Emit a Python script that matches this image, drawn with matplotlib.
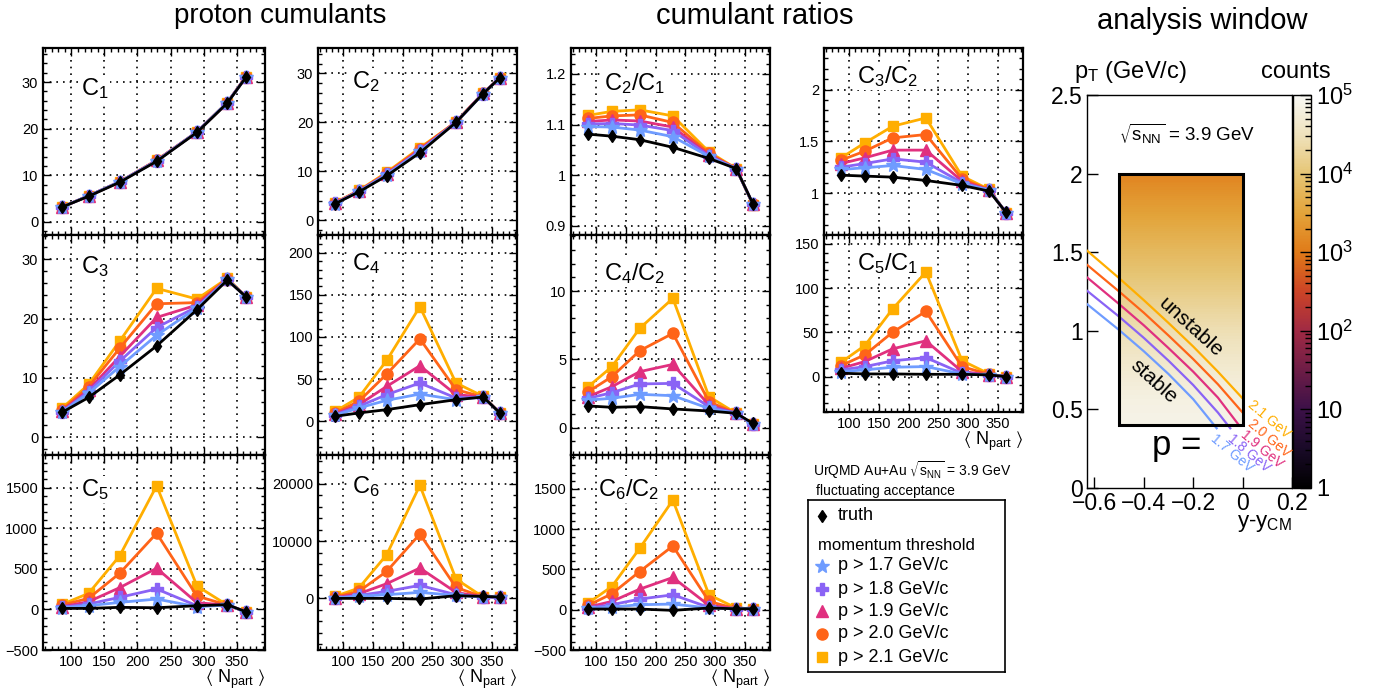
import matplotlib
matplotlib.use('Agg')
import numpy as np
import matplotlib.pyplot as plt
from matplotlib.colors import LinearSegmentedColormap, LogNorm
from matplotlib.patches import Rectangle
from matplotlib.ticker import MultipleLocator, AutoMinorLocator, FuncFormatter

plt.rcParams['font.family'] = ['Liberation Sans', 'DejaVu Sans']
plt.rcParams['mathtext.default'] = 'regular'

# ---- data ----
npart = [86, 126, 173, 229, 290, 336, 364]
series_names = ['truth', 'p > 1.7 GeV/c', 'p > 1.8 GeV/c', 'p > 1.9 GeV/c',
                'p > 2.0 GeV/c', 'p > 2.1 GeV/c']

# each panel: truth, >1.7, >1.8, >1.9, >2.0, >2.1
c1 = [[3.2, 5.5, 8.5, 13.0, 19.2, 25.5, 31.0],
      [3.2, 5.6, 8.6, 13.1, 19.3, 25.6, 31.0],
      [3.2, 5.6, 8.6, 13.1, 19.3, 25.6, 31.0],
      [3.2, 5.6, 8.6, 13.2, 19.3, 25.6, 31.1],
      [3.2, 5.6, 8.6, 13.2, 19.3, 25.6, 31.1],
      [3.2, 5.6, 8.6, 13.2, 19.3, 25.6, 31.1]]
c2 = [[3.4, 5.8, 9.1, 13.8, 20.0, 25.9, 29.1],
      [3.4, 5.9, 9.3, 14.1, 20.0, 25.9, 29.1],
      [3.5, 5.9, 9.4, 14.2, 20.0, 25.9, 29.1],
      [3.5, 6.0, 9.5, 14.4, 20.1, 26.0, 29.1],
      [3.6, 6.0, 9.6, 14.6, 20.1, 26.0, 29.1],
      [3.6, 6.1, 9.8, 14.8, 20.1, 26.0, 29.1]]
c3 = [[4.2, 6.7, 10.5, 15.4, 21.5, 26.5, 23.7],
      [4.3, 7.4, 11.9, 17.2, 21.8, 26.6, 23.7],
      [4.3, 7.7, 12.8, 18.5, 22.0, 26.6, 23.7],
      [4.4, 8.0, 13.6, 20.2, 22.3, 26.6, 23.7],
      [4.6, 8.5, 15.0, 22.5, 22.7, 26.7, 23.7],
      [4.9, 8.9, 16.2, 25.1, 23.3, 26.8, 23.7]]
c4 = [[5.9, 9.9, 13.8, 19.7, 25.6, 28.8, 9.9],
      [7.1, 15.8, 24.9, 32.3, 25.6, 28.8, 9.9],
      [7.9, 17.8, 31.6, 45.4, 27.6, 28.8, 9.9],
      [8.7, 19.7, 41.4, 65.9, 31.6, 28.8, 9.9],
      [9.9, 23.7, 56.0, 97.8, 37.5, 28.8, 9.9],
      [11.8, 28.4, 72.2, 136.0, 45.4, 29.6, 9.9]]
c5 = [[12, 12, 25, 20, 45, 58, -29],
      [20, 45, 86, 127, 33, 53, -29],
      [25, 66, 148, 251, 45, 53, -29],
      [33, 95, 267, 506, 82, 53, -29],
      [53, 136, 444, 937, 164, 53, -29],
      [62, 197, 658, 1521, 288, 53, -29]]
c6 = [[0, 0, 0, -116, 465, 349, 233],
      [58, 349, 640, 1047, 523, 233, 233],
      [58, 523, 1221, 2267, 640, 233, 233],
      [116, 814, 2558, 5291, 1047, 233, 233],
      [233, 1220, 4709, 11220, 1919, 233, 233],
      [349, 1802, 7616, 19709, 3372, 233, 233]]
r21 = [[1.081, 1.077, 1.070, 1.055, 1.033, 1.013, 0.944],
       [1.096, 1.095, 1.089, 1.076, 1.037, 1.013, 0.943],
       [1.101, 1.102, 1.099, 1.088, 1.038, 1.013, 0.943],
       [1.106, 1.109, 1.107, 1.095, 1.040, 1.013, 0.943],
       [1.112, 1.117, 1.119, 1.104, 1.043, 1.013, 0.943],
       [1.118, 1.126, 1.129, 1.117, 1.046, 1.013, 0.942]]
r32 = [[1.176, 1.167, 1.157, 1.125, 1.077, 1.022, 0.820],
       [1.231, 1.247, 1.269, 1.231, 1.093, 1.032, 0.815],
       [1.253, 1.288, 1.333, 1.301, 1.103, 1.032, 0.815],
       [1.288, 1.343, 1.417, 1.417, 1.119, 1.032, 0.815],
       [1.321, 1.407, 1.535, 1.567, 1.141, 1.035, 0.815],
       [1.343, 1.487, 1.647, 1.727, 1.167, 1.038, 0.814]]
r42 = [[1.59, 1.49, 1.54, 1.37, 1.22, 1.05, 0.32],
       [2.02, 2.15, 2.44, 2.34, 1.41, 1.05, 0.24],
       [2.15, 2.56, 3.20, 3.24, 1.54, 1.05, 0.24],
       [2.27, 3.00, 4.10, 4.63, 1.66, 1.05, 0.24],
       [2.63, 3.73, 5.63, 6.90, 1.90, 1.05, 0.24],
       [3.00, 4.46, 7.27, 9.46, 2.27, 1.05, 0.24]]
r51 = [[3.8, 3.0, 3.0, 2.6, 2.6, 1.9, 0],
       [5.7, 7.6, 10.6, 11.3, 3.0, 1.9, 0],
       [7.6, 11.3, 17.8, 21.5, 3.8, 1.9, 0],
       [9.4, 17.0, 31.4, 40.4, 5.7, 1.9, 0],
       [12.5, 24.6, 50.2, 73.7, 11.3, 2.5, 0],
       [16.2, 35.1, 76.6, 118.2, 18.1, 3.0, 0]]
r62 = [[8, 8, 8, -8, 21, 12, 12],
       [16, 33, 62, 70, 21, 12, 12],
       [21, 62, 132, 185, 29, 12, 12],
       [33, 103, 255, 400, 54, 12, 12],
       [54, 198, 474, 791, 103, 12, 12],
       [82, 288, 762, 1360, 185, 21, 12]]

# analysis window: counts per pT row (log colour scale)
window_y = [-0.5, 0.0]
window_pt = [0.4, 2.0]
window_counts = [7.5e4, 6.8e4, 5.8e4, 4.8e4, 3.9e4, 3.1e4, 2.4e4, 1.8e4,
                 1.35e4, 1.0e4, 7.5e3, 5.5e3, 4.0e3, 2.9e3, 2.1e3, 1.5e3]

# momentum threshold curves in (y-y_CM, pT)
thr_labels = ['1.7 GeV', '1.8 GeV', '1.9 GeV', '2.0 GeV', '2.1 GeV']
thr_y = [[-0.63, -0.5, -0.4, -0.3, -0.2, -0.105],
         [-0.63, -0.5, -0.4, -0.3, -0.2, -0.1, -0.05],
         [-0.63, -0.5, -0.4, -0.3, -0.2, -0.1, -0.015],
         [-0.63, -0.5, -0.4, -0.3, -0.2, -0.1, 0.0],
         [-0.63, -0.5, -0.4, -0.3, -0.2, -0.1, 0.0]]
thr_pt = [[1.17, 1.005, 0.87, 0.725, 0.565, 0.38],
          [1.255, 1.09, 0.955, 0.81, 0.655, 0.48, 0.38],
          [1.34, 1.17, 1.035, 0.89, 0.74, 0.575, 0.40],
          [1.42, 1.25, 1.115, 0.97, 0.82, 0.66, 0.48],
          [1.51, 1.335, 1.195, 1.05, 0.90, 0.74, 0.57]]

colors = ['black', '#6f9cff', '#8a63f5', '#e0307f', '#ff6418', '#ffae00']
markers = ['d', '*', 'P', '^', 'o', 's']
msizes = [6.5, 10, 8.5, 8, 8, 7.5]

W, H = 1382, 696
fig = plt.figure(figsize=(W / 100, H / 100), dpi=100)


def box(l, r, t, b):
    return [l / W, 1 - b / H, (r - l) / W, (b - t) / H]


def fmt(v, pos):
    return f'{v:g}'.replace('-', '\u2212')


cols = [(43, 265), (318, 517), (571, 770), (824, 1023)]
rows = [(48, 235), (235, 455), (455, 650)]
rows4 = [(48, 235), (235, 412)]

# label, data, ylim, yticks, column, rows, bottom row?, label offset (px)
panels = [
    ('C$_1$', c1, (-2.8, 37.3), [0, 10, 20, 30], 0, rows[0], False, (38, 39)),
    ('C$_3$', c3, (-3.0, 34.1), [0, 10, 20, 30], 0, rows[1], False, (38, 30)),
    ('C$_5$', c5, (-500, 1900), [-500, 0, 500, 1000, 1500], 0, rows[2], True, (38, 33)),
    ('C$_2$', c2, (-3.0, 35.2), [0, 10, 20, 30], 1, rows[0], False, (34, 32)),
    ('C$_4$', c4, (-40, 221), [0, 50, 100, 150, 200], 1, rows[1], False, (34, 27)),
    ('C$_6$', c6, (-9000, 25000), [0, 10000, 20000], 1, rows[2], True, (34, 30)),
    ('C$_2$/C$_1$', r21, (0.882, 1.251), [0.9, 1.0, 1.1, 1.2], 2, rows[0], False, (33, 34)),
    ('C$_4$/C$_2$', r42, (-2.0, 14.1), [0, 5, 10], 2, rows[1], False, (33, 37)),
    ('C$_6$/C$_2$', r62, (-500, 1920), [-500, 0, 500, 1000, 1500], 2, rows[2], True, (27, 33)),
    ('C$_3$/C$_2$', r32, (0.6, 2.4), [1.0, 1.5, 2.0], 3, rows4[0], False, (33, 27)),
    ('C$_5$/C$_1$', r51, (-40, 160), [0, 50, 100, 150], 3, rows4[1], True, (33, 27)),
]

for label, data, ylim, yticks, ci, (top, bot), bottom, (dx, dy) in panels:
    l, r = cols[ci]
    ax = fig.add_axes(box(l, r, top, bot))
    for i in [5, 4, 3, 2, 1, 0]:
        ax.plot(npart, data[i], color=colors[i], marker=markers[i], ms=msizes[i],
                mec=colors[i], lw=2, zorder=3 + (6 - i) if i else 10)
    ax.set_xlim(57, 393)
    ax.set_ylim(*ylim)
    ax.set_xticks([100, 150, 200, 250, 300, 350])
    ax.xaxis.set_minor_locator(MultipleLocator(10))
    ax.set_yticks(yticks)
    ax.yaxis.set_minor_locator(AutoMinorLocator(5))
    ax.yaxis.set_major_formatter(FuncFormatter(fmt))
    ax.grid(True, which='major', color='black', ls=(0, (1, 3)), lw=1.2)
    ax.tick_params(which='both', direction='in', top=True, right=True,
                   labelsize=10.5, width=1)
    ax.tick_params(which='major', length=6)
    ax.tick_params(which='minor', length=3)
    for s in ax.spines.values():
        s.set_linewidth(1.6)
    if not bottom:
        ax.tick_params(labelbottom=False)
    else:
        ax.text(1.0, -29 / (bot - top), r'$\langle$ N$_{part}$ $\rangle$',
                transform=ax.transAxes, ha='right', va='center', fontsize=13)
    ax.annotate(label, xy=(0, 1), xycoords='axes fraction', xytext=(dx, -dy - 8),
                textcoords='offset pixels', ha='left', va='baseline', fontsize=17,
                zorder=20, bbox=dict(fc='white', ec='none', pad=1))

fig.text(280 / W, 1 - 16 / H, 'proton cumulants', ha='center', va='center', fontsize=20)
fig.text(755 / W, 1 - 16 / H, 'cumulant ratios', ha='center', va='center', fontsize=21)
fig.text(1202 / W, 1 - 21 / H, 'analysis window', ha='center', va='center', fontsize=21)

# legend block
fig.text(912 / W, 1 - 470 / H, r'UrQMD Au+Au $\sqrt{s_{NN}}$ = 3.9 GeV',
         ha='center', va='center', fontsize=10)
fig.text(885 / W, 1 - 491 / H, 'fluctuating acceptance', ha='center', va='center', fontsize=10)
lax = fig.add_axes(box(808, 1005, 500, 672))
lax.set_xlim(0, 197)
lax.set_ylim(172, 0)
lax.set_xticks([])
lax.set_yticks([])
for s in lax.spines.values():
    s.set_linewidth(1.2)
leg_rows = [16, 66, 89, 111, 134, 157]
for i, yy in enumerate(leg_rows):
    lax.plot([14], [yy], color=colors[i], marker=markers[i], ms=msizes[i], mec=colors[i])
    lax.text(30, yy, series_names[i], ha='left', va='center', fontsize=13)
lax.text(10, 45, 'momentum threshold', ha='left', va='center', fontsize=12)

# analysis window panel
cmap = LinearSegmentedColormap.from_list('dbr', [
    (0.0, '#000000'), (0.1, '#1a0a28'), (0.2, '#3c1048'), (0.4, '#a02a44'),
    (0.5, '#cc4426'), (0.6, '#e07a18'), (0.7, '#e3a43a'), (0.8, '#e6c574'),
    (0.9, '#efe2bc'), (1.0, '#f8f8f4')])
norm = LogNorm(1, 1e5)
wax = fig.add_axes(box(1087, 1292, 95, 488))
counts2d = np.tile(np.array(window_counts)[:, None], (1, 2))
im = wax.imshow(counts2d, extent=(window_y[0], window_y[1], window_pt[0], window_pt[1]),
                origin='lower', aspect='auto', cmap=cmap, norm=norm,
                interpolation='bilinear')
wax.add_patch(Rectangle((window_y[0], window_pt[0]), window_y[1] - window_y[0],
                        window_pt[1] - window_pt[0], fill=False, ec='black', lw=2.2, zorder=5))
for i in range(5):
    wax.plot(thr_y[i], thr_pt[i], color=colors[i + 1], lw=1.6, zorder=4)
wax.set_xlim(-0.63, 0.2)
wax.set_ylim(0, 2.5)
wax.set_xticks([-0.6, -0.4, -0.2, 0, 0.2])
wax.set_yticks([0, 0.5, 1, 1.5, 2, 2.5])
wax.xaxis.set_major_formatter(FuncFormatter(fmt))
wax.yaxis.set_major_formatter(FuncFormatter(fmt))
wax.tick_params(direction='in', labelsize=16.5, length=8, width=1, pad=3)
for s in wax.spines.values():
    s.set_linewidth(1)

wax.text(-0.224, 2.25, r'$\sqrt{s_{NN}}$ = 3.9 GeV', ha='center', va='center', fontsize=13.5)
wax.text(-0.21, 1.02, 'unstable', rotation=-42, ha='center', va='center', fontsize=15)
wax.text(-0.36, 0.68, 'stable', rotation=-42, ha='center', va='center', fontsize=15)
wax.text(-0.265, 0.27, 'p =', ha='center', va='center', fontsize=25)
lab_pos = [(-0.042, 0.222), (0.026, 0.222), (0.08, 0.244), (0.107, 0.318), (0.107, 0.434)]
for i in range(5):
    wax.text(lab_pos[i][0], lab_pos[i][1], thr_labels[i], color=colors[i + 1],
             rotation=-40, ha='center', va='center', fontsize=10)

fig.text(1130 / W, 1 - 72 / H, 'p$_T$ (GeV/c)', ha='center', va='center', fontsize=17)
fig.text(1296 / W, 1 - 72 / H, 'counts', ha='center', va='center', fontsize=17)
fig.text(1264 / W, 1 - 524 / H, 'y-y$_{CM}$', ha='center', va='center', fontsize=16)

cax = fig.add_axes(box(1293, 1311, 95, 488))
cb = fig.colorbar(im, cax=cax)
cb.set_ticks([1, 10, 100, 1e3, 1e4, 1e5])
cb.set_ticklabels(['1', '10', '$10^{2}$', '$10^{3}$', '$10^{4}$', '$10^{5}$'])
cax.tick_params(which='both', direction='in', labelsize=17, width=1)
cax.tick_params(which='major', length=8)
cax.tick_params(which='minor', length=4)
cb.outline.set_linewidth(1)

fig.savefig('out.png', dpi=100)
